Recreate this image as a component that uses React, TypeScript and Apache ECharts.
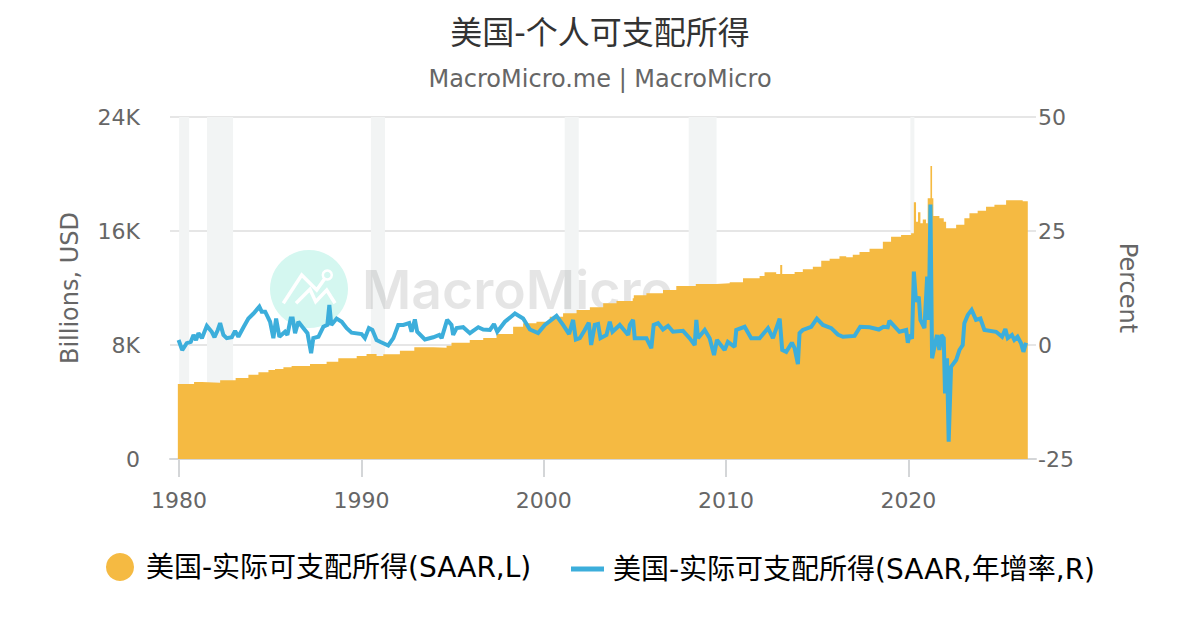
import React, { useEffect, useRef } from "react";
import * as echarts from "echarts";

const titleText = "美国-个人可支配所得";
const subtitleText = "MacroMicro.me | MacroMicro";
const areaName = "美国-实际可支配所得(SAAR,L)";
const lineName = "美国-实际可支配所得(SAAR,年增率,R)";
const xTickYears = [1980, 1990, 2000, 2010, 2020];

const recessions = [
  [1980.0, 1980.55], [1981.53, 1982.96], [1990.52, 1991.29],
  [2001.15, 2001.92], [2007.95, 2009.48], [2020.11, 2020.33],
];

const areaYears = [
  1979.93, 1980.82, 1981.24, 1982.25, 1983.1, 1983.8, 1984.35, 1984.9, 1985.26, 1985.72, 1986.17, 1987.18,
  1988.09, 1988.73, 1989.74, 1990.28, 1990.83, 1991.2, 1992.11, 1992.9, 1992.95, 1993.94, 1994.67, 1994.94,
  1995.94, 1996.68, 1997.41, 1998.32, 1998.87, 1999.6, 2000.33, 2001.06, 2001.8, 2002.53, 2003.26, 2003.99,
  2004.88, 2004.94, 2005.63, 2006.54, 2007.27, 2008.34, 2008.4, 2009.47, 2010.2, 2010.93, 2011.84, 2012.11,
  2012.57, 2012.75, 2012.97, 2013.08, 2013.67, 2013.76, 2014.21, 2014.76, 2015.22, 2015.68, 2016.22, 2016.59,
  2016.95, 2017.32, 2017.87, 2018.6, 2019.05, 2019.6, 2020.15, 2020.3, 2020.42, 2020.53, 2020.66, 2020.79,
  2020.97, 2021.06, 2021.21, 2021.3, 2021.37, 2021.7, 2021.94, 2022.07, 2022.43, 2022.62, 2022.95, 2023.07,
  2023.35, 2023.8, 2024.26, 2024.72, 2025.36, 2026.09, 2026.27, 2026.55,
];
const areaValues = [
  5263, 5404, 5357, 5520, 5685, 5919, 6082, 6246, 6316, 6433, 6527, 6667,
  6831, 7065, 7229, 7369, 7229, 7346, 7603, 7837, 7837, 7813, 7953, 8164,
  8351, 8500, 8772, 9287, 9520, 9638, 9989, 10223, 10457, 10645, 10924, 11088,
  11276, 11500, 11627, 11860, 12141, 12282, 12282, 12328, 12400, 12679, 12843, 13100,
  13100, 12983, 13615, 12983, 12983, 13124, 13310, 13498, 13918, 14060, 14223, 14150,
  14340, 14527, 14761, 15252, 15603, 15720, 15837, 18012, 16656, 17312, 16539, 16800,
  16539, 18293, 20563, 18293, 17053, 16890, 16650, 16188, 16188, 16445, 16445, 16890,
  17240, 17428, 17710, 17850, 18153, 18153, 18080, 18153,
];

const lineYears = [
  1979.97, 1980.17, 1980.42, 1980.64, 1980.79, 1980.93, 1981.06, 1981.25, 1981.52, 1981.79, 1981.94, 1982.12,
  1982.25, 1982.43, 1982.61, 1982.89, 1983.07, 1983.25, 1983.53, 1983.8, 1984.08, 1984.4, 1984.53, 1984.72,
  1984.99, 1985.17, 1985.32, 1985.5, 1985.81, 1985.94, 1986.12, 1986.23, 1986.36, 1986.54, 1986.82, 1987.04,
  1987.24, 1987.36, 1987.64, 1987.91, 1988.13, 1988.24, 1988.35, 1988.64, 1988.92, 1989.19, 1989.46, 1990.01,
  1990.19, 1990.41, 1990.6, 1990.83, 1991.02, 1991.47, 1991.75, 1992.02, 1992.3, 1992.62, 1992.75, 1992.93,
  1993.06, 1993.48, 1993.94, 1994.27, 1994.4, 1994.7, 1994.94, 1995.03, 1995.22, 1995.58, 1995.95, 1996.41,
  1996.68, 1997.05, 1997.27, 1997.45, 1997.87, 1998.42, 1998.87, 1999.24, 1999.69, 2000.06, 2000.7, 2001.06,
  2001.39, 2001.61, 2001.76, 2001.98, 2002.25, 2002.47, 2002.6, 2002.8, 2002.98, 2003.11, 2003.44, 2003.62,
  2003.77, 2004.17, 2004.63, 2004.72, 2004.9, 2004.99, 2005.63, 2005.9, 2006.03, 2006.27, 2006.54, 2006.82,
  2007.09, 2007.64, 2008.0, 2008.28, 2008.37, 2008.46, 2008.83, 2009.1, 2009.34, 2009.5, 2009.92, 2010.1,
  2010.47, 2010.56, 2011.02, 2011.38, 2011.84, 2012.3, 2012.57, 2012.94, 2013.08, 2013.3, 2013.61, 2013.76,
  2013.94, 2014.03, 2014.21, 2014.67, 2014.98, 2015.31, 2015.77, 2016.13, 2016.41, 2017.05, 2017.36, 2017.87,
  2018.38, 2018.63, 2018.87, 2018.96, 2019.51, 2019.88, 2019.97, 2020.06, 2020.2, 2020.3, 2020.42, 2020.57,
  2020.66, 2020.88, 2021.03, 2021.12, 2021.21, 2021.3, 2021.43, 2021.57, 2021.7, 2021.81, 2021.94, 2022.01,
  2022.12, 2022.21, 2022.34, 2022.62, 2022.8, 2022.98, 2023.07, 2023.26, 2023.47, 2023.71, 2023.95, 2024.17,
  2024.81, 2025.14, 2025.32, 2025.45, 2025.68, 2025.81, 2025.99, 2026.18, 2026.31, 2026.45,
];
const lineValues = [
  1.1, -1.1, 0.4, 0.7, 2.2, 1.1, 2.6, 1.5, 4.2, 2.9, 1.7, 3.3,
  4.8, 2.2, 1.5, 1.7, 3.1, 1.8, 3.9, 5.8, 6.9, 8.4, 7.3, 7.3,
  5.1, 1.5, 5.8, 1.8, 2.9, 2.2, 5.8, 5.8, 2.6, 5.1, 3.7, 2.6,
  -1.8, 1.5, 1.8, 4.0, 4.4, 8.8, 4.4, 5.8, 5.1, 3.7, 2.7, 2.4,
  1.5, 3.7, 3.3, 1.1, 0.7, -0.1, 1.5, 4.4, 4.4, 4.8, 2.9, 5.6,
  2.9, 1.2, 1.7, 2.2, 1.5, 5.5, 4.4, 2.2, 3.7, 3.9, 2.6, 3.9,
  3.4, 3.3, 4.6, 2.9, 5.1, 6.9, 5.8, 3.4, 2.6, 4.4, 6.4, 4.4,
  2.4, 5.5, 1.2, 1.5, 3.3, 4.9, 0, 4.4, 4.6, 1.5, 2.2, 5.1,
  2.9, 4.4, 2.2, 4.4, 5.5, 1.5, 1.5, -0.7, 4.4, 4.8, 3.4, 4.2,
  2.9, 3.1, 1.5, 0, 5.5, 1.5, 3.3, 1.5, -2.2, 1.1, -1.1, 0.7,
  -0.4, 3.3, 4.0, 1.5, 1.5, 3.7, 1.5, 5.8, -1.1, -1.5, 0.5, -0.7,
  -4.2, 2.6, 3.3, 4.0, 5.8, 4.4, 3.7, 2.3, 1.8, 2.0, 4.0, 3.9,
  3.4, 4.0, 3.9, 5.3, 2.9, 3.3, 0.5, 2.2, 1.4, 16.1, 9.5, 10.6,
  5.5, 3.7, 15.0, 5.5, 30.8, -2.9, -0.4, 2.2, -1.1, 2.2, 1.5, -10.6,
  -2.9, -21.2, -4.8, -3.3, -1.1, 0, 4.8, 6.6, 7.7, 5.5, 5.8, 3.3,
  2.9, 1.8, 3.5, 1.5, 2.2, 1.1, 1.8, 0.4, -1.5, 0.5,
];

const FONT = "'DejaVu Sans', 'Noto Sans CJK SC', sans-serif";
const GREY = "#666666";
const YELLOW = "#f5ba42";
const BLUE = "#3caedb";
const GRID = "#e6e6e6";
const AXIS = "#d4d6d8";

export default function App() {
  const ref = useRef<HTMLDivElement>(null);
  useEffect(() => {
    const chart = echarts.init(ref.current!, undefined, { renderer: "svg" });
    chart.setOption({
      animation: false,
      backgroundColor: "#ffffff",
      textStyle: { fontFamily: FONT },
      title: [
        { text: titleText, left: "center", top: 12, textStyle: { fontFamily: FONT, fontSize: 32, fontWeight: "normal", color: "#333333" } },
        { text: subtitleText, left: "center", top: 62, textStyle: { fontFamily: FONT, fontSize: 24, fontWeight: "normal", color: GREY } },
      ],
      grid: { left: 170, right: 164, top: 117, bottom: 171 },
      legend: [
        { left: 101, top: 548, itemWidth: 28, itemHeight: 28, icon: "circle", data: [areaName],
          textStyle: { fontFamily: FONT, fontSize: 28, color: "#000000", padding: [2, 0, 0, 7] } },
        { left: 566, top: 550, itemWidth: 33, itemHeight: 5, icon: "rect", data: [lineName],
          textStyle: { fontFamily: FONT, fontSize: 28, color: "#000000", padding: [0, 0, 6, 4] } },
      ],
      xAxis: {
        type: "value", min: 1979.5, max: 2027, splitLine: { show: false },
        axisLine: { show: true, onZero: false, lineStyle: { color: AXIS, width: 2 } },
        axisTick: { show: true, length: 18, customValues: xTickYears, lineStyle: { color: AXIS, width: 2 } },
        axisLabel: { customValues: xTickYears, margin: 30, fontSize: 22, color: GREY, formatter: (v: number) => String(v), fontFamily: FONT },
      },
      yAxis: [
        {
          type: "value", position: "left", min: 0, max: 24000, interval: 8000,
          name: "Billions, USD", nameLocation: "middle", nameGap: 88, nameTextStyle: { fontSize: 24, color: GREY, fontFamily: FONT },
          axisLine: { show: false }, axisTick: { show: false },
          splitLine: { show: true, lineStyle: { color: GRID, width: 2 } },
          axisLabel: { margin: 30, fontSize: 22, color: GREY, fontFamily: FONT, padding: [2, 0, 0, 0], formatter: (v: number) => (v === 0 ? "0" : v / 1000 + "K") },
        },
        {
          type: "value", position: "right", min: -25, max: 50, interval: 25,
          name: "Percent", nameLocation: "middle", nameRotate: -90, nameGap: 80, nameTextStyle: { fontSize: 24, color: GREY, fontFamily: FONT },
          axisLine: { show: false }, axisTick: { show: false }, splitLine: { show: false },
          axisLabel: { margin: 2, fontSize: 22, color: GREY, fontFamily: FONT, padding: [2, 0, 0, 0] },
        },
      ],
      graphic: [
        { type: "circle", z: 1.5, silent: true, shape: { cx: 309, cy: 289, r: 39 }, style: { fill: "#d4f7f0" } },
        { type: "polyline", z: 1.5, silent: true, shape: { points: [[283.3, 303.3], [301.7, 275], [316.7, 290], [325, 278.3]] }, style: { stroke: "#fff", lineWidth: 3.5, fill: "none" } },
        { type: "polyline", z: 1.5, silent: true, shape: { points: [[296, 303.3], [310, 289.3], [315.7, 301.7], [326.7, 290], [335, 303.3]] }, style: { stroke: "#fff", lineWidth: 3.5, fill: "none" } },
        { type: "circle", z: 1.5, silent: true, shape: { cx: 327.3, cy: 275, r: 4.5 }, style: { fill: "none", stroke: "#fff", lineWidth: 2.5 } },
        { type: "text", z: 1.5, silent: true, x: 362, y: 289, style: { text: "MacroMicro", fontFamily: "Inter", fontWeight: 600, fontSize: 53.5, fill: "#000", opacity: 0.1, verticalAlign: "middle" } },
      ],
      series: [
        {
          name: "recessions", type: "line", z: 1, silent: true, data: [], symbol: "none",
          markArea: {
            silent: true, itemStyle: { color: "#f2f4f4" }, label: { show: false },
            data: recessions.map(([a, b]) => [{ xAxis: a, yAxis: 0 }, { xAxis: b, yAxis: 24000 }]),
          },
        },
        {
          name: areaName, type: "line", yAxisIndex: 0, z: 2, step: "end", symbol: "none", silent: true,
          color: YELLOW, lineStyle: { width: 0, color: YELLOW }, itemStyle: { color: YELLOW },
          areaStyle: { color: YELLOW, opacity: 1 },
          data: areaYears.map((y, i) => [y, areaValues[i]]),
        },
        {
          name: lineName, type: "line", yAxisIndex: 1, z: 3, symbol: "none", silent: true,
          color: BLUE, lineStyle: { width: 4, color: BLUE, join: "miter", miterLimit: 2 }, itemStyle: { color: BLUE },
          data: lineYears.map((y, i) => [y, lineValues[i]]),
        },
      ],
    });
    return () => chart.dispose();
  }, []);
  return <div ref={ref} style={{ position: "fixed", left: 0, top: 0, width: 1200, height: 630 }} />;
}
